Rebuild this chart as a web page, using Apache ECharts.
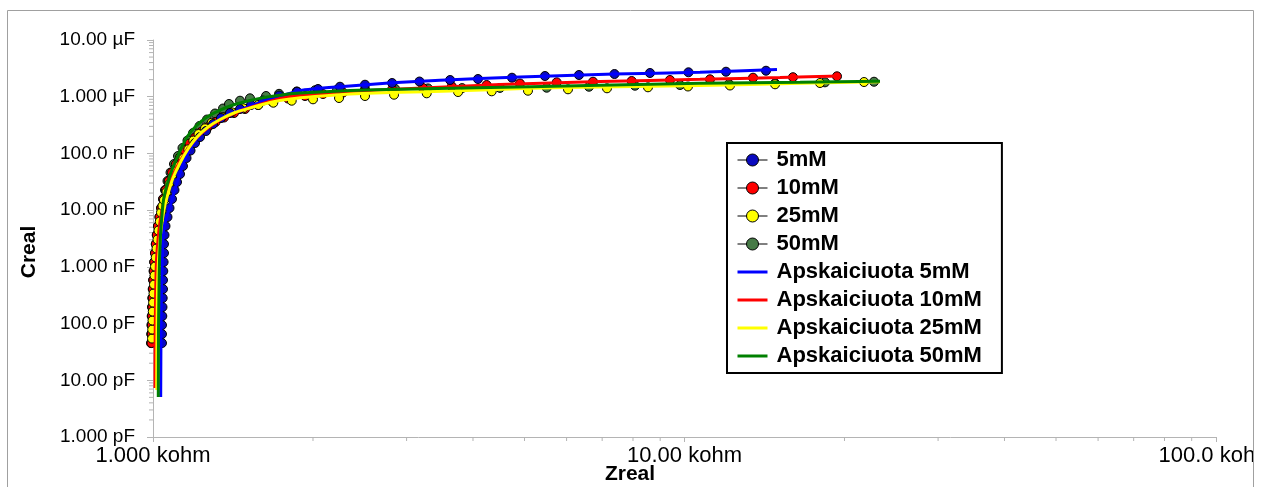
<!DOCTYPE html>
<html><head><meta charset="utf-8">
<script src="https://cdn.jsdelivr.net/npm/echarts@6/dist/echarts.min.js"></script>
<style>html,body{margin:0;padding:0;background:#fff}#c{width:1261px;height:487px}</style>
</head><body><div id="c"></div>
<script>
// ---------- labels ----------
const seriesNames = ['5mM', '10mM', '25mM', '50mM'];
const fitNames = ['Apskaiciuota 5mM', 'Apskaiciuota 10mM', 'Apskaiciuota 25mM', 'Apskaiciuota 50mM'];
const xTickLabels = ['1.000 kohm', '10.00 kohm', '100.0 kohm'];          // 10^0 .. 10^2 kohm
const yTickLabels = ['1.000 pF', '10.00 pF', '100.0 pF', '1.000 nF', '10.00 nF', '100.0 nF', '1.000 µF', '10.00 µF']; // 10^-3 .. 10^4 nF
const minorMultipliers = [2, 3, 4, 5, 6, 7, 8, 9];
const xDecades = [1, 10];
const yDecades = [0.001, 0.01, 0.1, 1, 10, 100, 1000];

// ---------- measured data: Zreal (kohm), Creal (nF) ----------
const z5 = [1.0397,1.0397,1.0397,1.0411,1.0420,1.0429,1.0443,1.0443,1.0456,1.0470,1.0488,1.0488,1.0511,1.0556,1.0648,1.0741,1.0858,1.0976,1.1096,1.1242,1.1387,1.1563,1.1766,1.1997,1.2260,1.2583,1.2971,1.3425,1.3960,1.4579,1.5290,1.6106,1.7265,1.8662,2.0438,2.2481,2.5055,2.8172,3.1722,3.6224,4.0876,4.7362,5.4637,6.3314,7.3838,8.6115,10.174,11.970,14.235];
const c5 = [0.0453,0.0653,0.0941,0.1356,0.1954,0.2817,0.4060,0.5852,0.8431,1.215,1.751,2.524,3.638,5.243,7.556,10.89,15.70,22.62,31.31,43.32,59.97,82.96,112.5,152.5,194.6,248.4,330.0,421.1,515.8,607.0,714.0,857.0,1050,1225,1367,1501,1628,1744,1853,1970,2052,2163,2318,2414,2513,2619,2694,2760,2873];

const z10 = [0.9935,0.9944,0.9952,0.9961,0.9974,0.9987,1.0000,1.0017,1.0035,1.0056,1.0087,1.0122,1.0166,1.0219,1.0286,1.0366,1.0456,1.0570,1.0704,1.0858,1.1038,1.1242,1.1462,1.1713,1.1997,1.2311,1.2693,1.3112,1.3601,1.4205,1.4900,1.5760,1.6748,1.7947,1.9320,2.0885,2.2778,2.5055,2.8172,3.2208,3.6492,4.2439,4.9027,5.7487,6.7282,7.9545,9.3907,11.168,13.457,15.999,19.360];
const c10 = [0.0453,0.0653,0.0941,0.1356,0.1954,0.2817,0.4060,0.5852,0.8431,1.215,1.751,2.524,3.638,5.243,7.556,10.89,15.70,22.62,32.61,46.04,63.72,86.40,114.8,149.5,190.7,238.5,292.1,358.0,429.8,515.8,607.0,714.0,822.9,929.7,1029,1116,1186,1261,1340,1424,1514,1609,1709,1794,1838,1891,1970,2027,2163,2208,2291];

const z25 = [0.9957,0.9965,0.9978,0.9991,1.0004,1.0022,1.0043,1.0065,1.0087,1.0118,1.0153,1.0197,1.0241,1.0299,1.0353,1.0420,1.0488,1.0602,1.0741,1.0882,1.1048,1.1207,1.1404,1.1653,1.1909,1.2180,1.2529,1.2897,1.3469,1.4064,1.4790,1.5781,1.6843,1.8239,2.0000,2.2387,2.5055,2.8414,3.2734,3.7497,4.3378,5.0760,6.0368,7.1479,8.5368,10.152,12.179,14.804,17.985,21.768];
const c25 = [0.0544,0.0784,0.1130,0.1628,0.2346,0.3382,0.4874,0.7026,1.012,1.459,2.103,3.030,4.368,6.295,9.072,11.90,15.07,20.86,28.87,38.36,48.94,59.97,81.95,118.1,168.8,219.9,277.1,347.9,433.3,530.8,624.3,714.0,784.0,850.3,899.7,948.6,1029,1085,1148,1210,1245,1276,1351,1407,1465,1514,1576,1655,1744,1816];

const z50 = [0.9914,0.9922,0.9931,0.9944,0.9957,0.9970,0.9987,1.0004,1.0026,1.0052,1.0087,1.0122,1.0166,1.0219,1.0286,1.0353,1.0443,1.0534,1.0648,1.0788,1.0952,1.1144,1.1363,1.1612,1.1894,1.2233,1.2638,1.3084,1.3544,1.3900,1.4579,1.5222,1.6318,1.7265,1.8638,2.0174,2.2195,2.5055,2.8539,3.2915,3.8159,4.4965,5.5041,6.6114,8.0690,9.8062,12.127,14.804,18.378,22.730];
const c50 = [0.0453,0.0653,0.0941,0.1356,0.1954,0.2817,0.4060,0.5852,0.8431,1.215,1.751,2.524,3.638,5.243,7.556,10.89,15.70,22.62,32.61,46.04,65.04,89.97,124.5,168.8,229.0,304.2,396.2,505.4,619.3,743.6,850.3,937.2,1029,1125,1235,1297,1324,1351,1378,1401,1418,1430,1442,1501,1564,1609,1675,1723,1794,1838];

// ---------- fitted (Apskaiciuota) curves ----------
const fz5 = [1.0339,1.0353,1.0375,1.0411,1.0456,1.0579,1.0764,1.1000,1.1242,1.1535,1.1909,1.2420,1.2985,1.3721,1.4579,1.5423,1.6365,1.7567,1.8907,2.2481,2.8172,3.4672,4.9027,7.3687,10.695,14.928];
const fc5 = [0.005054,0.07677,0.3898,1.318,3.946,6.966,11.48,23.56,44.57,86.40,150.7,238.5,339.6,466.0,582.7,714.0,874.7,1050,1286,1501,1765,1954,2226,2513,2694,3018];

const fz10 = [1.0087,1.0096,1.0118,1.0153,1.0219,1.0308,1.0443,1.0625,1.0858,1.1193,1.1588,1.2049,1.2638,1.3370,1.4329,1.5557,1.7339,1.8907,2.2481,2.9155,4.4965,6.9343,10.695,15.126,19.612];
const fc10 = [0.007295,0.07677,0.3898,1.318,2.970,6.167,12.30,21.73,38.36,67.73,114.8,183.2,274.9,388.3,526.4,685.5,929.7,1050,1210,1367,1641,1853,2027,2182,2318];

const fz25 = [1.0162,1.0175,1.0197,1.0241,1.0308,1.0397,1.0534,1.0694,1.0905,1.1242,1.1638,1.2101,1.2693,1.3370,1.4267,1.5222,1.6604,1.8107,2.0174,2.3482,2.9155,3.6224,5.1200,6.9343,10.695,16.497,23.327];
const fc25 = [0.006720,0.07677,0.3898,1.318,2.970,6.167,12.30,20.86,36.83,67.73,119.6,194.6,292.1,396.2,526.4,632.0,790.3,910.8,1008,1116,1196,1261,1407,1483,1576,1723,1838];

const fz50 = [1.0232,1.0241,1.0263,1.0286,1.0330,1.0397,1.0465,1.0625,1.0905,1.1242,1.1588,1.2049,1.2638,1.3310,1.4143,1.5222,1.6389,1.7567,1.8907,2.3482,2.9155,3.6224,5.1200,6.9343,10.695,16.497,23.327];
const fc50 = [0.005054,0.07677,0.3898,1.318,3.638,8.195,15.07,27.72,57.56,110.2,194.6,304.2,438.5,570.9,714.0,857.0,987.9,1085,1162,1286,1351,1407,1501,1589,1723,1794,1876];

// ---------- styles ----------
const markerColors = ['#0a0abf', '#ff0000', '#ffff00', '#467a46'];
const lineColors = ['#0000ff', '#ff0000', '#ffff00', '#008000'];
const FONT = 'Liberation Sans, Arial, sans-serif';
const AXIS_GRAY = '#b4b4b4';

const zip = (a, b) => a.map((v, i) => [v, b[i]]);
const measured = [[z5, c5], [z10, c10], [z25, c25], [z50, c50]];
const fitted = [[fz5, fc5], [fz10, fc10], [fz25, fc25], [fz50, fc50]];

const series = [];
// draw 50mM markers first so that 25/10/5 mM sit above them
[3, 1, 2, 0].forEach(i => {
  const d = measured[i];
  series.push({
    type: 'line', name: seriesNames[i], data: zip(d[0], d[1]),
    symbol: 'circle', symbolSize: 9, showSymbol: true, showAllSymbol: true, clip: false, silent: true,
    lineStyle: { width: 0, color: '#000' },
    itemStyle: { color: markerColors[i], borderColor: '#000', borderWidth: 1 }, z: 3
  });
});
fitted.forEach((d, i) => {
  series.push({
    type: 'line', name: fitNames[i], data: zip(d[0], d[1]),
    symbol: 'none', showSymbol: false, smooth: 0.2, clip: false, silent: true,
    lineStyle: { color: lineColors[i], width: 3 }, itemStyle: { color: lineColors[i] }, z: 4
  });
});

// log minor ticks
const yMinor = [];
yDecades.forEach(d => minorMultipliers.forEach(m => yMinor.push([1, d * m])));
const xMinor = [];
xDecades.forEach(d => minorMultipliers.forEach(m => xMinor.push([d * m, 0.001])));
series.push({
  type: 'custom', silent: true, clip: false, z: 2, data: yMinor,
  renderItem: (p, api) => {
    const pt = api.coord([api.value(0), api.value(1)]);
    return { type: 'line', shape: { x1: pt[0] - 4, y1: pt[1], x2: pt[0], y2: pt[1] }, style: { stroke: AXIS_GRAY, lineWidth: 1 } };
  }
});
series.push({
  type: 'custom', silent: true, clip: false, z: 2, data: xMinor,
  renderItem: (p, api) => {
    const pt = api.coord([api.value(0), api.value(1)]);
    return { type: 'line', shape: { x1: pt[0], y1: pt[1], x2: pt[0], y2: pt[1] + 4 }, style: { stroke: AXIS_GRAY, lineWidth: 1 } };
  }
});

const legendData = [];
seriesNames.forEach(n => legendData.push({
  name: n, lineStyle: { color: '#000', width: 1, opacity: 1 },
  itemStyle: { borderColor: '#000', borderWidth: 1 }
}));
fitNames.forEach((n, i) => legendData.push({
  name: n, lineStyle: { color: lineColors[i], width: 3, opacity: 1 },
  itemStyle: { opacity: 0 }
}));

const chart = echarts.init(document.getElementById('c'), null, { renderer: 'canvas' });
chart.setOption({
  animation: false,
  backgroundColor: '#fff',
  grid: { left: 153, right: 45, top: 40, bottom: 50, outerBoundsMode: 'none', containLabel: false },
  xAxis: {
    type: 'log', logBase: 10, min: 1, max: 100, interval: 1, splitNumber: 10,
    name: 'Zreal', nameLocation: 'middle', nameGap: 27, nameMoveOverlap: false,
    nameTextStyle: { fontFamily: FONT, fontWeight: 'bold', fontSize: 21, color: '#000', padding: [0, 109, 0, 0] },
    axisLine: { lineStyle: { color: AXIS_GRAY, width: 1 } },
    axisTick: { show: true, inside: false, length: 5, lineStyle: { color: AXIS_GRAY } },
    axisLabel: { fontFamily: FONT, fontSize: 22, color: '#000', margin: 8,
      formatter: v => xTickLabels[Math.round(Math.log10(v))] },
    splitLine: { show: false }
  },
  yAxis: {
    type: 'log', logBase: 10, min: 0.001, max: 10000, interval: 1, splitNumber: 10,
    name: 'Creal', nameLocation: 'middle', nameGap: 113,
    nameTextStyle: { fontFamily: FONT, fontWeight: 'bold', fontSize: 21, color: '#000', padding: [0, 27, 0, 0] },
    axisLine: { lineStyle: { color: AXIS_GRAY, width: 1 } },
    axisTick: { show: true, inside: false, length: 6, lineStyle: { color: AXIS_GRAY } },
    axisLabel: { fontFamily: FONT, fontSize: 19, color: '#000', margin: 18,
      formatter: v => yTickLabels[Math.round(Math.log10(v)) + 3] },
    splitLine: { show: false }
  },
  legend: {
    orient: 'vertical', left: 727, top: 143, selectedMode: false,
    backgroundColor: '#fff', borderColor: '#000', borderWidth: 2,
    padding: [6, 20, 6, 9], itemWidth: 30, itemHeight: 15, itemGap: 6,
    textStyle: { fontFamily: FONT, fontWeight: 'bold', fontSize: 22, color: '#000', lineHeight: 22, padding: [0, 0, 0, 4] },
    data: legendData
  },
  graphic: [
    { type: 'rect', z: 100, silent: true, shape: { x: 1254, y: 0, width: 10, height: 487 }, style: { fill: '#fff' } },
    { type: 'rect', z: 101, silent: true, shape: { x: 7.5, y: 10.5, width: 1246, height: 500 }, style: { fill: 'none', stroke: '#a0a0a0', lineWidth: 1 } }
  ],
  series: series
});
</script>
</body></html>
